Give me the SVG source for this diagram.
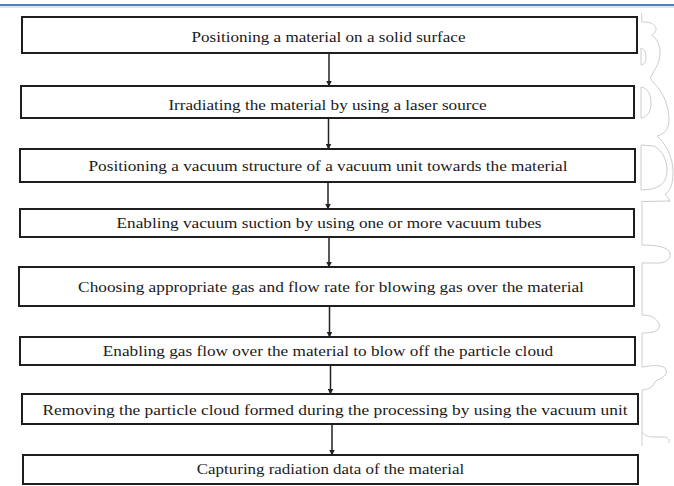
<svg xmlns="http://www.w3.org/2000/svg" width="674" height="486" viewBox="0 0 674 486">
<style>
.box{fill:#fff;stroke:#1e1e1e;stroke-width:2}
.t{font-family:'Liberation Serif','Times New Roman','DejaVu Serif',serif;font-size:14.6px;fill:#1a1a1a;text-anchor:middle}
.c{stroke:#222;stroke-width:1.5;fill:none}
.deco{fill:none;stroke:#cdcdcd;stroke-width:1}
</style>
<defs>
<marker id="ah" markerWidth="6" markerHeight="6" refX="5.5" refY="3" orient="auto" markerUnits="userSpaceOnUse">
<path d="M0,0 L6,3 L0,6 Z" fill="#222"/>
</marker>
</defs>
<rect width="674" height="486" fill="#fff"/>
<line x1="0" y1="5" x2="674" y2="5" stroke="#4f81bd" stroke-width="2"/>
<line x1="0" y1="7" x2="674" y2="7" stroke="#b8cfe9" stroke-width="1"/>

<g id="decor">
<path class="deco" d="M641.7,13 L641.7,22 C646,22 652,22 655,26 C658,30 654,34 651.7,35 C656,38 660,44 660,52 C660,62 656,68 651,76 C650,78 651,80 653,82 C663,92 669,105 669,120 C669,130 664,134 657,136 C664,142 673,155 673,172 C673,184 670,192 665,194 C667,197 671,199 669,202"/>
<path class="deco" d="M642,201.5 L670,201"/>
<path class="deco" d="M642,201 L642,245 C652,245 665,246 669,251 C672,256 669,262 660,263 L642,263 L642,315 C650,315 657,318 659,324 C661,330 655,333 643,333 L642,333 L642,367 C650,366 660,364 665,368 C669,373 664,378 657,380 C654,382 654,386 650,388 C647,389 644,390 642,390 L642,432 C645,436 648,437 655,437 L665,437 C669,438 671,441 668,443 M642,432 L642,446"/>
<path class="deco" d="M641,48 C645,49 646,53 646,57 C646,61 645,64 641,65 Z"/>
<path class="deco" d="M641,87 C648,88 651,95 651,103 C651,111 648,117 641,118 Z"/>
<path class="deco" d="M641,145 L654,146 C662,150 667,160 667,170 C667,180 663,186 652,189 L641,190 Z"/>
</g>

<g id="connectors">
<line class="c" x1="329" y1="53" x2="329" y2="86" marker-end="url(#ah)"/>
<line class="c" x1="328.5" y1="118" x2="328.5" y2="149" marker-end="url(#ah)"/>
<line class="c" x1="328" y1="182" x2="328" y2="209" marker-end="url(#ah)"/>
<line class="c" x1="329" y1="237" x2="329" y2="267" marker-end="url(#ah)"/>
<line class="c" x1="329.5" y1="306" x2="329.5" y2="337" marker-end="url(#ah)"/>
<line class="c" x1="330.5" y1="365" x2="330.5" y2="394" marker-end="url(#ah)"/>
<line class="c" x1="332" y1="424" x2="332" y2="455" marker-end="url(#ah)"/>
</g>

<g id="n1"><rect class="box" x="22" y="17" width="615" height="36"/>
<text class="t" transform="translate(328.5 42) scale(1.17 1)">Positioning a material on a solid surface</text></g>
<g id="n2"><rect class="box" x="21" y="86" width="613" height="32"/>
<text class="t" transform="translate(327.5 110) scale(1.175 1)">Irradiating the material by using a laser source</text></g>
<g id="n3"><rect class="box" x="20" y="149" width="615" height="33"/>
<text class="t" transform="translate(328 171) scale(1.18 1)">Positioning a vacuum structure of a vacuum unit towards the material</text></g>
<g id="n4"><rect class="box" x="20" y="209" width="614" height="28"/>
<text class="t" transform="translate(329 228) scale(1.18 1)">Enabling vacuum suction by using one or more vacuum tubes</text></g>
<g id="n5"><rect class="box" x="19" y="267" width="615" height="39"/>
<text class="t" transform="translate(331 292) scale(1.183 1)">Choosing appropriate gas and flow rate for blowing gas over the material</text></g>
<g id="n6"><rect class="box" x="20" y="337" width="615" height="28"/>
<text class="t" transform="translate(328 356) scale(1.18 1)">Enabling gas flow over the material to blow off the particle cloud</text></g>
<g id="n7"><rect class="box" x="22" y="394" width="616" height="30"/>
<text class="t" transform="translate(335 415) scale(1.19 1)">Removing the particle cloud formed during the processing by using the vacuum unit</text></g>
<g id="n8"><rect class="box" x="23" y="455" width="615" height="29"/>
<text class="t" transform="translate(330.5 474) scale(1.16 1)">Capturing radiation data of the material</text></g>
</svg>
